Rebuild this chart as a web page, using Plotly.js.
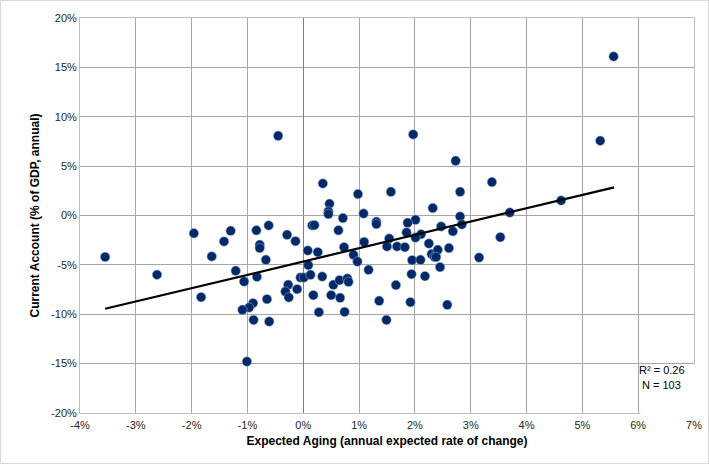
<!DOCTYPE html>
<html>
<head>
<meta charset="utf-8">
<script src="https://cdn.plot.ly/plotly-3.0.1.min.js"></script>
<style>
html,body{margin:0;padding:0;background:#fff;}
#chart{width:709px;height:464px;box-sizing:border-box;border:1px solid #d9d9d9;}
</style>
</head>
<body>
<div id="chart"></div>
<script>
// Expected aging (% annual change) for each country
const agingX = [
  -3.55,-2.62,-1.96,-1.30,-1.42,-1.64,-1.83,-0.84,-0.78,-0.78,
  -0.67,-1.21,-1.06,-0.83,-0.27,-0.32,-0.26,-0.65,-0.90,-0.97,
  -1.09,-0.89,-0.61,-1.01,-0.45,-0.62,-0.29,1.97,2.73,2.81,
  2.32,2.81,2.84,2.68,2.47,2.01,1.87,1.85,2.11,2.01,
  0.35,0.47,0.45,0.45,0.98,1.57,1.08,0.71,1.31,1.31,
  0.63,0.16,0.20,-0.14,1.09,1.54,0.08,0.26,0.09,-0.05,
  0.01,0.13,0.34,-0.11,0.18,0.28,0.54,0.65,0.79,0.81,
  0.50,0.66,0.74,0.73,0.90,0.97,1.17,1.36,1.49,1.66,
  1.50,1.68,1.82,1.95,2.10,1.94,1.92,2.18,2.25,2.30,
  2.35,2.41,2.38,2.45,2.61,2.58,3.15,3.38,3.70,4.62,
  5.32,3.53,5.56
];
// Current account (% of GDP, annual)
const currentAccount = [
  -4.2,-6.0,-1.8,-1.55,-2.63,-4.15,-8.27,-1.5,-2.97,-3.3,
  -4.49,-5.6,-6.69,-6.21,-7.02,-7.7,-8.3,-8.47,-8.88,-9.32,
  -9.55,-10.57,-10.74,-14.79,8.07,-1.01,-1.96,8.21,5.54,2.40,
  0.75,-0.10,-0.91,-1.6,-1.11,-0.44,-0.74,-1.72,-1.9,-2.24,
  3.24,1.19,0.41,0.14,2.17,2.40,0.20,-0.26,-0.64,-0.87,
  -1.5,-1.01,-0.98,-2.6,-2.68,-2.34,-3.55,-3.71,-5.03,-6.28,
  -6.28,-6.01,-6.18,-7.46,-8.07,-9.79,-7.02,-6.55,-6.38,-6.72,
  -8.07,-8.34,-9.76,-3.21,-3.98,-4.66,-5.50,-8.64,-10.57,-7.05,
  -3.14,-3.14,-3.21,-4.52,-4.49,-5.94,-8.78,-6.14,-2.84,-3.91,
  -4.18,-3.48,-4.21,-5.23,-3.30,-9.05,-4.26,3.38,0.30,1.52,
  7.57,-2.2,16.1
];
// Linear trend
const trendSlope = 1.348;
const trendIntercept = -4.66;
const trendX = [-3.55, 5.57];
const trendY = trendX.map(x => trendIntercept + trendSlope * x);

const xTicks = [-4,-3,-2,-1,0,1,2,3,4,5,6,7];
const xTickText = ["-4%","-3%","-2%","-1%","0%","1%","2%","3%","4%","5%","6%","7%"];
const yTicks = [-20,-15,-10,-5,0,5,10,15,20];
const yTickText = ["-20%","-15%","-10%","-5%","0%","5%","10%","15%","20%"];

const statsLines = ["R² = 0.26", "N = 103"];

const font = "Liberation Sans, Arial, sans-serif";

const traces = [
  {
    x: agingX, y: currentAccount, type: 'scatter', mode: 'markers',
    marker: {color: '#032a66', size: 9.5, line: {color: 'rgba(150,175,215,0.9)', width: 0.6}},
    hoverinfo: 'skip', cliponaxis: false
  },
  {
    x: trendX, y: trendY, type: 'scatter', mode: 'lines',
    line: {color: '#000', width: 2.2}, hoverinfo: 'skip'
  }
];

const layout = {
  width: 707, height: 462,
  margin: {l: 79, r: 14, t: 17, b: 50},
  paper_bgcolor: '#fff', plot_bgcolor: '#fff',
  showlegend: false,
  font: {family: font, size: 11, color: '#262626'},
  xaxis: {
    range: [-4, 7], tickvals: xTicks, ticktext: xTickText,
    showgrid: true, gridcolor: '#a6a6a6', gridwidth: 1,
    zeroline: true, zerolinecolor: '#7f7f7f', zerolinewidth: 1,
    showline: true, linecolor: '#bfbfbf', mirror: true,
    ticks: 'outside', ticklen: 2, tickcolor: 'rgba(0,0,0,0)', fixedrange: true,
    tickfont: {family: font, size: 11, color: '#262626'},
    title: {text: '<b>Expected Aging (annual expected rate of change)</b>', standoff: 6,
            font: {family: font, size: 12, color: '#000'}}
  },
  yaxis: {
    range: [-20, 20], tickvals: yTicks, ticktext: yTickText,
    showgrid: true, gridcolor: '#a6a6a6', gridwidth: 1,
    zeroline: true, zerolinecolor: '#a6a6a6', zerolinewidth: 1,
    showline: true, linecolor: '#bfbfbf', mirror: true,
    ticks: '', fixedrange: true,
    tickfont: {family: font, size: 11, color: '#262626'},
    title: {text: '<b>Current Account (% of GDP, annual)</b>', standoff: 8,
            font: {family: font, size: 12, color: '#000'}}
  },
  shapes: [{
    type: 'rect', xref: 'paper', yref: 'paper', x0: 0.9125, x1: 1.01, y0: -0.01, y1: 0.124,
    fillcolor: '#fff', line: {width: 0}, layer: 'above'
  }],
  annotations: [
    {x: 6.42, y: -15.63, xref: 'x', yref: 'y', yanchor: 'middle', text: statsLines[0], showarrow: false,
     font: {family: font, size: 11, color: '#000'}},
    {x: 6.42, y: -17.15, xref: 'x', yref: 'y', yanchor: 'middle', text: statsLines[1], showarrow: false,
     font: {family: font, size: 11, color: '#000'}}
  ]
};

Plotly.newPlot('chart', traces, layout, {displayModeBar: false, staticPlot: true});
</script>
</body>
</html>
